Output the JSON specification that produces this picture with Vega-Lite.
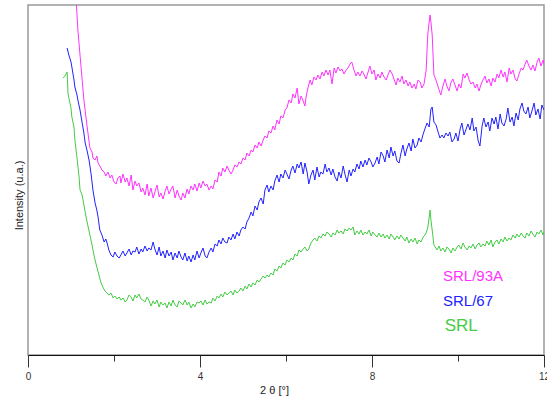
{
  "$schema": "https://vega.github.io/schema/vega-lite/v6.json",
  "autosize": {"type": "none"},
  "width": 516,
  "height": 350,
  "padding": {"left": 28, "top": 5, "right": 3, "bottom": 46},
  "background": "white",
  "config": {
    "view": {"stroke": "#999999", "strokeWidth": 1.5},
    "font": "Liberation Sans"
  },
  "datasets": {
    "curves": [
      {"s": "SRL/93A",
       "x": [1.12,1.16,1.21,1.26,1.30,1.35,1.40,1.44,1.49,1.51,1.56,1.60,1.63,1.67,1.72,1.77,1.81,1.86,1.91,1.95,2.00,2.05,2.09,2.14,2.16,2.21,2.26,2.30,2.35,2.40,2.44,2.49,2.53,2.58,2.63,2.67,2.72,2.77,2.81,2.86,2.91,2.95,3.00,3.05,3.09,3.14,3.19,3.23,3.28,3.33,3.37,3.42,3.47,3.51,3.56,3.60,3.65,3.70,3.74,3.79,3.84,3.88,3.93,3.98,4.02,4.07,4.12,4.16,4.21,4.26,4.30,4.35,4.40,4.44,4.49,4.53,4.58,4.63,4.67,4.72,4.77,4.81,4.86,4.91,4.95,5.00,5.05,5.09,5.14,5.19,5.23,5.28,5.33,5.37,5.42,5.47,5.51,5.56,5.60,5.65,5.70,5.74,5.79,5.84,5.88,5.93,5.98,6.02,6.07,6.12,6.16,6.21,6.26,6.30,6.35,6.40,6.44,6.47,6.51,6.56,6.60,6.65,6.70,6.74,6.79,6.84,6.88,6.93,6.98,7.02,7.07,7.12,7.16,7.21,7.26,7.30,7.35,7.40,7.44,7.49,7.53,7.58,7.63,7.67,7.72,7.77,7.81,7.86,7.91,7.95,8.00,8.05,8.09,8.14,8.19,8.23,8.28,8.33,8.37,8.42,8.47,8.51,8.56,8.60,8.65,8.70,8.74,8.79,8.84,8.88,8.93,8.98,9.02,9.07,9.12,9.16,9.21,9.26,9.28,9.30,9.33,9.35,9.37,9.40,9.42,9.44,9.47,9.51,9.56,9.60,9.65,9.70,9.74,9.79,9.84,9.88,9.93,9.98,10.02,10.07,10.12,10.16,10.21,10.26,10.30,10.35,10.40,10.44,10.49,10.53,10.58,10.63,10.67,10.72,10.77,10.81,10.86,10.91,10.95,11.00,11.05,11.09,11.14,11.19,11.23,11.28,11.33,11.37,11.42,11.47,11.51,11.56,11.60,11.65,11.70,11.74,11.79,11.84,11.88,11.93,11.98,12.00],
       "y": [355,325,300,275,255,237,220,207,203,197,195,199,192,189,185,183,179,183,177,180,173,171,177,179,172,181,173,177,169,180,165,174,169,172,163,167,160,171,159,167,157,163,170,158,162,156,164,169,161,166,169,157,165,159,155,162,157,166,161,169,165,171,164,172,167,174,169,171,165,169,166,175,173,183,179,187,183,189,185,181,185,190,188,193,191,197,195,202,199,205,203,210,207,213,209,215,219,217,224,222,229,225,235,231,239,237,245,247,255,252,261,257,267,251,259,254,249,259,267,275,270,278,275,280,276,283,279,285,280,285,271,287,282,288,284,286,281,285,287,291,293,285,279,283,279,284,281,276,283,289,281,285,275,281,277,283,278,275,280,285,281,276,270,277,273,279,271,275,269,273,267,271,266,275,273,267,271,285,305,322,333,340,333,320,300,280,277,272,265,260,269,276,269,264,273,276,270,264,271,267,281,277,282,275,271,273,267,271,264,270,275,279,272,276,269,277,273,281,277,285,278,283,273,287,281,285,276,274,281,287,285,291,295,289,285,290,284,293,297,289,295,291]},
      {"s": "SRL/67",
       "x": [0.91,0.95,1.00,1.02,1.07,1.09,1.14,1.16,1.21,1.26,1.30,1.33,1.37,1.42,1.47,1.51,1.56,1.60,1.63,1.67,1.72,1.77,1.81,1.84,1.88,1.93,1.98,2.02,2.07,2.12,2.16,2.21,2.26,2.30,2.35,2.40,2.44,2.49,2.53,2.58,2.63,2.67,2.72,2.77,2.81,2.86,2.91,2.95,3.00,3.05,3.09,3.14,3.19,3.23,3.28,3.33,3.37,3.42,3.47,3.51,3.56,3.60,3.65,3.70,3.74,3.79,3.84,3.88,3.93,3.98,4.02,4.07,4.12,4.16,4.21,4.26,4.30,4.35,4.40,4.44,4.49,4.53,4.58,4.63,4.67,4.72,4.77,4.81,4.86,4.91,4.95,5.00,5.05,5.09,5.14,5.19,5.23,5.28,5.33,5.37,5.42,5.47,5.51,5.56,5.60,5.65,5.70,5.74,5.79,5.84,5.88,5.93,5.98,6.02,6.07,6.12,6.16,6.21,6.26,6.30,6.35,6.40,6.44,6.49,6.53,6.58,6.63,6.67,6.72,6.77,6.81,6.86,6.91,6.95,7.00,7.05,7.09,7.14,7.19,7.23,7.28,7.33,7.37,7.42,7.47,7.51,7.56,7.60,7.65,7.70,7.74,7.79,7.84,7.88,7.93,7.98,8.02,8.07,8.12,8.16,8.21,8.26,8.30,8.35,8.40,8.44,8.49,8.53,8.58,8.63,8.67,8.72,8.77,8.81,8.86,8.91,8.95,9.00,9.05,9.09,9.14,9.19,9.23,9.28,9.33,9.37,9.40,9.44,9.49,9.53,9.58,9.63,9.67,9.72,9.77,9.81,9.86,9.91,9.95,10.00,10.05,10.09,10.14,10.19,10.23,10.28,10.33,10.37,10.42,10.47,10.51,10.56,10.60,10.65,10.70,10.74,10.79,10.84,10.88,10.93,10.98,11.02,11.07,11.12,11.16,11.21,11.26,11.30,11.35,11.40,11.44,11.49,11.53,11.58,11.63,11.67,11.72,11.77,11.81,11.86,11.91,11.95,12.00],
       "y": [307,300,293,288,275,268,260,255,245,232,222,212,205,195,180,165,152,145,138,125,120,113,116,112,105,100,98,103,99,97,100,104,99,102,106,100,104,103,108,101,106,103,109,104,107,105,113,106,100,108,99,104,97,105,99,103,95,102,97,104,98,95,102,94,99,93,100,95,104,97,102,107,99,97,103,107,103,111,109,115,111,117,113,112,118,115,121,116,123,119,125,128,126,133,137,143,139,149,145,153,157,151,165,170,163,169,165,174,180,173,181,177,185,181,176,185,189,182,191,187,193,181,192,183,171,180,185,175,188,178,183,181,191,183,187,180,186,178,174,183,177,189,181,173,185,179,186,183,191,186,194,188,195,190,197,193,188,192,198,191,203,199,193,205,197,208,199,204,194,192,201,210,199,206,212,204,216,207,210,217,213,221,226,232,228,246,248,233,230,224,217,220,217,222,219,223,213,216,222,214,226,232,220,226,231,225,237,224,228,214,209,229,237,228,233,224,237,231,238,226,241,232,229,236,247,233,238,229,242,235,246,252,244,241,248,237,244,252,240,246,236,250,245]},
      {"s": "SRL",
       "x": [0.81,0.86,0.91,0.93,0.95,1.00,1.02,1.07,1.09,1.14,1.19,1.21,1.26,1.30,1.35,1.40,1.44,1.49,1.51,1.56,1.60,1.65,1.70,1.74,1.79,1.84,1.88,1.93,1.98,2.02,2.07,2.12,2.16,2.21,2.26,2.30,2.35,2.40,2.44,2.49,2.53,2.58,2.63,2.67,2.72,2.77,2.81,2.86,2.91,2.95,3.00,3.05,3.09,3.14,3.19,3.23,3.28,3.33,3.37,3.42,3.47,3.51,3.56,3.60,3.65,3.70,3.74,3.79,3.84,3.88,3.93,3.98,4.02,4.07,4.12,4.16,4.21,4.26,4.30,4.35,4.40,4.44,4.49,4.53,4.58,4.63,4.67,4.72,4.77,4.81,4.86,4.91,4.95,5.00,5.05,5.09,5.14,5.19,5.23,5.28,5.33,5.37,5.42,5.47,5.51,5.56,5.60,5.65,5.70,5.74,5.79,5.84,5.88,5.93,5.98,6.02,6.07,6.12,6.16,6.21,6.26,6.30,6.35,6.40,6.44,6.49,6.53,6.58,6.63,6.67,6.72,6.77,6.81,6.86,6.91,6.95,7.00,7.05,7.09,7.14,7.19,7.23,7.28,7.33,7.37,7.42,7.47,7.51,7.56,7.60,7.65,7.70,7.74,7.79,7.84,7.88,7.93,7.98,8.02,8.07,8.12,8.16,8.21,8.26,8.30,8.35,8.40,8.44,8.49,8.53,8.58,8.63,8.67,8.72,8.77,8.81,8.86,8.91,8.95,9.00,9.05,9.09,9.14,9.19,9.23,9.26,9.30,9.33,9.35,9.37,9.40,9.44,9.47,9.51,9.56,9.60,9.65,9.70,9.74,9.79,9.84,9.88,9.93,9.98,10.02,10.07,10.12,10.16,10.21,10.26,10.30,10.35,10.40,10.44,10.49,10.53,10.58,10.63,10.67,10.72,10.77,10.81,10.86,10.91,10.95,11.00,11.05,11.09,11.14,11.19,11.23,11.28,11.33,11.37,11.42,11.47,11.51,11.56,11.60,11.65,11.70,11.74,11.79,11.84,11.88,11.93,11.98,12.00],
       "y": [277,279,283,262,257,247,238,228,215,197,177,165,160,150,138,128,120,110,105,95,88,80,72,68,64,62,60,62,57,59,56,58,55,57,53,55,60,58,54,60,57,61,56,55,53,58,55,49,54,51,55,48,53,50,52,47,53,49,55,50,48,54,52,50,55,50,53,47,51,48,53,52,54,50,55,51,53,52,57,54,59,57,61,58,63,60,62,64,60,65,62,64,67,64,69,66,71,68,72,70,75,73,76,79,77,80,78,82,80,86,84,89,87,92,90,95,93,97,95,101,99,105,103,106,108,104,106,112,115,117,114,119,117,121,119,123,121,118,122,120,125,122,124,121,126,124,127,125,128,120,124,121,125,120,123,121,125,119,123,120,118,122,118,121,117,120,116,121,118,115,119,116,120,117,114,118,112,116,113,117,111,115,113,118,120,122,128,138,145,135,125,110,108,105,109,104,107,103,108,106,102,107,104,108,110,106,112,108,105,109,107,111,106,110,112,108,111,109,114,110,115,108,113,115,111,116,113,118,114,117,115,120,117,121,118,122,119,117,122,119,124,121,118,123,121,125,120,123]}
    ],
    "labels": [
      {"s": "SRL/93A", "x": 9.65, "y": 79},
      {"s": "SRL/67", "x": 9.65, "y": 54},
      {"s": "SRL", "x": 9.69, "y": 29}
    ]
  },
  "encoding": {
    "x": {
      "field": "x", "type": "quantitative",
      "scale": {"domain": [0, 12], "nice": false, "zero": false},
      "axis": {
        "values": [0, 2, 4, 6, 8, 10, 12],
        "labelExpr": "datum.value % 4 === 0 ? datum.label : ''",
        "tickSize": {"condition": {"test": "datum.value % 4 === 0", "value": 12}, "value": 6},
        "tickColor": "#333333",
        "domainColor": "#111111",
        "labelColor": "#333333",
        "labelFontSize": 10,
        "labelFont": "Liberation Sans",
        "labelPadding": 4,
        "labelFlush": false,
        "labelOverlap": false,
        "grid": false,
        "title": "2 θ [°]",
        "titleFont": "Liberation Sans",
        "titleFontSize": 11,
        "titleFontWeight": "normal",
        "titleColor": "#222222",
        "titlePadding": 3,
        "titleX": 246
      }
    },
    "y": {
      "field": "y", "type": "quantitative",
      "scale": {"domain": [0, 350], "nice": false, "zero": false},
      "axis": {
        "labels": false, "ticks": false, "domain": false, "grid": false,
        "title": "Intensity (u.a.)",
        "titleFont": "Liberation Sans",
        "titleFontSize": 11,
        "titleFontWeight": "normal",
        "titleColor": "#222222",
        "titlePadding": 4,
        "titleY": 190
      }
    },
    "color": {
      "field": "s", "type": "nominal",
      "scale": {"domain": ["SRL/93A", "SRL/67", "SRL"], "range": ["#ff33ff", "#2222ff", "#44cc44"]},
      "legend": null
    }
  },
  "layer": [
    {
      "data": {"name": "curves"},
      "transform": [{"flatten": ["x", "y"]}],
      "mark": {"type": "line", "strokeWidth": 1, "clip": true, "interpolate": "linear"},
      "encoding": {"detail": {"field": "s"}}
    },
    {
      "data": {"name": "labels"},
      "mark": {"type": "text", "align": "left", "baseline": "middle", "font": "Liberation Sans"},
      "encoding": {
        "text": {"field": "s"},
        "size": {"condition": {"test": "datum.s === 'SRL'", "value": 17}, "value": 15}
      }
    }
  ]
}
